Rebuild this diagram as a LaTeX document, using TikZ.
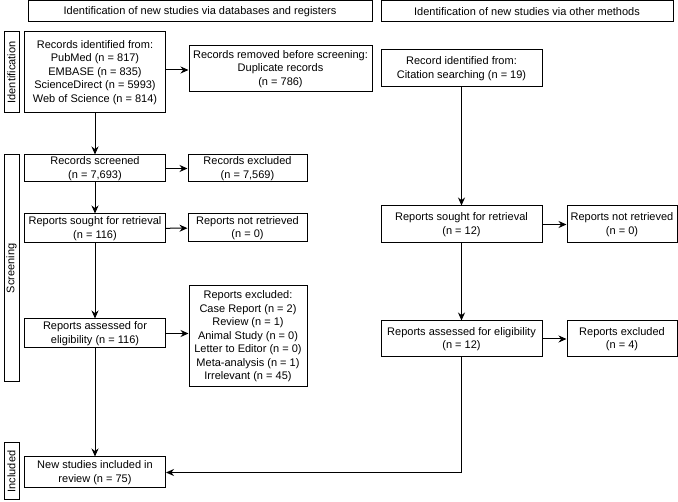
\documentclass[tikz,border=0pt]{standalone}
\usepackage{fontspec}
\setmainfont{Liberation Sans}
\usetikzlibrary{arrows.meta}
\begin{document}
\begin{tikzpicture}[x=1pt,y=-1pt,
  every node/.style={font=\fontsize{11}{13.5}\selectfont},
  box/.style={draw, line width=1pt, fill=white, align=center, inner sep=1pt, minimum width=#1},
  side/.style={draw, line width=1pt, fill=white, rotate=90, inner sep=0pt, minimum height=15pt},
  arr/.style={line width=1pt, -{Stealth[length=8pt,width=7pt]}},
  ln/.style={line width=1pt}]
\useasboundingbox (0,0) rectangle (678,502);
% headers
\node[box=344, minimum height=21] (h1) at (200,11.5) {Identification of new studies via databases and registers};
\node[box=292, minimum height=21] (h2) at (527,11.5) {Identification of new studies via other methods};
% side labels
\node[side, minimum width=81] (labId) at (11.5,72.5) {Identification};
\node[side, minimum width=227] (labScr) at (11.5,268.5) {Screening};
\node[side, minimum width=57] (labInc) at (11.5,471.5) {Included};
% left column
\node[box=141, minimum height=81] (recId) at (95,72.5) {Records identified from:\\PubMed (n = 817)\\EMBASE (n = 835)\\ScienceDirect (n = 5993)\\Web of Science (n = 814)};
\node[box=183, minimum height=46] (removed) at (280.5,69) {Records removed before screening:\\Duplicate records\\(n = 786)};
\node[box=141, minimum height=27] (scr) at (95,168.5) {Records screened\\(n = 7,693)};
\node[box=119, minimum height=27] (excl) at (247.5,168.5) {Records excluded\\(n = 7,569)};
\node[box=141, minimum height=29] (sought) at (95,228.5) {Reports sought for retrieval\\(n = 116)};
\node[box=119, minimum height=28] (notret) at (247.5,228) {Reports not retrieved\\(n = 0)};
\node[box=118, minimum height=101] (exclList) at (248,336.5) {Reports excluded:\\Case Report (n = 2)\\Review (n = 1)\\Animal Study (n = 0)\\Letter to Editor (n = 0)\\Meta-analysis (n = 1)\\Irrelevant (n = 45)};
\node[box=141, minimum height=29] (assess) at (95,333.5) {Reports assessed for\\eligibility (n = 116)};
\node[box=141, minimum height=31] (newst) at (95,472.5) {New studies included in\\review (n = 75)};
% right column
\node[box=161, minimum height=37] (cit) at (461.5,68.5) {Record identified from:\\Citation searching (n = 19)};
\node[box=161, minimum height=37] (sought2) at (461.5,224.5) {Reports sought for retrieval\\(n = 12)};
\node[box=110, minimum height=37] (notret2) at (622,224.5) {Reports not retrieved\\(n = 0)};
\node[box=161, minimum height=36] (assess2) at (461.5,339) {Reports assessed for eligibility\\(n = 12)};
\node[box=110, minimum height=36] (excl2) at (622,339) {Reports excluded\\(n = 4)};
% connectors left
\draw[arr] (recId.east |- 0,70) -- (removed.west |- 0,70);
\draw[arr] (recId) -- (scr);
\draw[arr] (scr) -- (excl);
\draw[arr] (scr) -- (sought);
\draw[arr] (sought) -- (notret);
\draw[arr] (sought) -- (assess);
\draw[arr] (assess.east) -- (exclList.west |- assess.east);
\draw[arr] (assess) -- (newst);
% connectors right
\draw[arr] (cit) -- (sought2);
\draw[arr] (sought2) -- (notret2);
\draw[arr] (sought2) -- (assess2);
\draw[arr] (assess2) -- (excl2);
\draw[arr] (assess2.south) |- (newst.east);
\end{tikzpicture}
\end{document}
